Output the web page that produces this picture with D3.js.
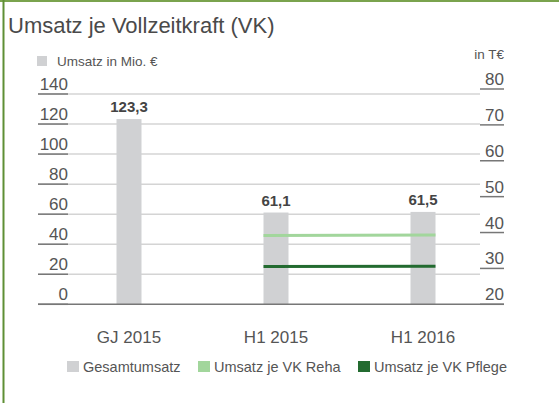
<!DOCTYPE html>
<html lang="de">
<head>
    <meta charset="UTF-8">
    <title>Umsatz je Vollzeitkraft (VK)</title>
    <script src="https://cdn.jsdelivr.net/npm/d3@7"></script>
    <style>
        body { margin: 0; background: #fff; }
        * { font-family: 'Liberation Sans', Arial, sans-serif; }
    </style>
</head>
<body>
<script>
    // data
    const categories = ["GJ 2015", "H1 2015", "H1 2016"];
    const umsatz = [123.3, 61.1, 61.5];          // Mio. €
    const reha = [null, 39.2, 39.3];             // T€ je VK
    const pflege = [null, 30.5, 30.6];           // T€ je VK
    const leftTicks = [0, 20, 40, 60, 80, 100, 120, 140];
    const rightTicks = [20, 30, 40, 50, 60, 70, 80];

    const W = 559, H = 403;
    const gridColor = "#d4d4d4", axisColor = "#777", textColor = "#555";
    const barColor = "#d0d1d3", rehaColor = "#a2d69c", pflegeColor = "#236b30";
    const barW = 25;

    const de = d3.formatLocale({decimal: ",", thousands: ".", grouping: [3], currency: ["", " €"]});
    const fmt = de.format(".1f");

    const svg = d3.select("body").append("svg").attr("width", W).attr("height", H);

    // frame
    svg.append("line").attr("x1", 0).attr("x2", W).attr("y1", 1).attr("y2", 1)
        .attr("stroke", "#7aa34e").attr("stroke-width", 2);
    svg.append("line").attr("x1", 3.5).attr("x2", 3.5).attr("y1", 0).attr("y2", H)
        .attr("stroke", "#5f8f35").attr("stroke-width", 2);

    svg.append("text").attr("x", 8).attr("y", 33)
        .attr("font-size", 22).attr("fill", "#4a4a4a")
        .text("Umsatz je Vollzeitkraft (VK)");

    const x = d3.scalePoint().domain(categories).range([129, 423]);
    const yL = d3.scaleLinear().domain([0, 140]).range([304.3, 94]);
    const yR = d3.scaleLinear().domain([20, 80]).range([304.3, 89]);

    // gridlines
    svg.append("g").selectAll("line").data(leftTicks.slice(1)).join("line")
        .attr("x1", 38).attr("x2", 480)
        .attr("y1", d => yL(d)).attr("y2", d => yL(d))
        .attr("stroke", gridColor).attr("stroke-width", 1.5);

    // left axis
    const gl = svg.append("g").selectAll("g").data(leftTicks).join("g")
        .attr("transform", d => `translate(0,${yL(d)})`);
    gl.append("line").attr("x1", 38).attr("x2", 68)
        .attr("stroke", axisColor).attr("stroke-width", 1.5);
    gl.append("text").attr("x", 68).attr("y", -4).attr("text-anchor", "end")
        .attr("font-size", 17).attr("fill", textColor).text(d => d);

    // right axis
    const gr = svg.append("g").selectAll("g").data(rightTicks).join("g")
        .attr("transform", d => `translate(0,${yR(d)})`);
    gr.append("line").attr("x1", 480).attr("x2", 504)
        .attr("stroke", axisColor).attr("stroke-width", 1.5);
    gr.append("text").attr("x", 504).attr("y", -4).attr("text-anchor", "end")
        .attr("font-size", 17).attr("fill", textColor).text(d => d);

    svg.append("text").attr("x", 504).attr("y", 59).attr("text-anchor", "end")
        .attr("font-size", 13.5).attr("fill", textColor).text("in T€");

    // top legend
    svg.append("rect").attr("x", 37).attr("y", 56).attr("width", 10).attr("height", 10).attr("fill", barColor);
    svg.append("text").attr("x", 57).attr("y", 66)
        .attr("font-size", 13.5).attr("fill", textColor).text("Umsatz in Mio. €");

    // bars
    svg.append("g").selectAll("rect").data(umsatz).join("rect")
        .attr("x", (d, i) => x(categories[i]) - barW / 2)
        .attr("width", barW)
        .attr("y", d => yL(d))
        .attr("height", d => yL(0) - yL(d))
        .attr("fill", barColor);

    svg.append("g").selectAll("text").data(umsatz).join("text")
        .attr("x", (d, i) => x(categories[i]))
        .attr("y", d => yL(d) - 7)
        .attr("text-anchor", "middle")
        .attr("font-family", "'DejaVu Sans', sans-serif")
        .attr("font-weight", "bold").attr("font-size", 15).attr("fill", "#444")
        .text(d => fmt(d));

    // baseline
    svg.append("line").attr("x1", 38).attr("x2", 504)
        .attr("y1", yL(0)).attr("y2", yL(0))
        .attr("stroke", axisColor).attr("stroke-width", 1.5);

    // lines on right axis
    function drawLine(values, color) {
        const pts = values.map((v, i) => [categories[i], v]).filter(p => p[1] != null);
        const xs = pts.map((p, j) => x(p[0]) + (j === 0 ? -barW / 2 : j === pts.length - 1 ? barW / 2 : 0));
        svg.append("path")
            .datum(pts.map((p, j) => [xs[j], yR(p[1])]))
            .attr("d", d3.line())
            .attr("fill", "none").attr("stroke", color).attr("stroke-width", 3);
    }
    drawLine(reha, rehaColor);
    drawLine(pflege, pflegeColor);

    // category labels
    svg.append("g").selectAll("text").data(categories).join("text")
        .attr("x", d => x(d)).attr("y", 343)
        .attr("text-anchor", "middle").attr("font-size", 17).attr("fill", textColor)
        .text(d => d);

    // bottom legend
    const legend = [
        {name: "Gesamtumsatz", color: barColor, x: 67},
        {name: "Umsatz je VK Reha", color: rehaColor, x: 198},
        {name: "Umsatz je VK Pflege", color: pflegeColor, x: 358}
    ];
    const lg = svg.append("g").selectAll("g").data(legend).join("g")
        .attr("transform", d => `translate(${d.x},361)`);
    lg.append("rect").attr("width", 12).attr("height", 11).attr("fill", d => d.color);
    lg.append("text").attr("x", 16).attr("y", 11)
        .attr("font-size", 14.5).attr("fill", textColor).text(d => d.name);
</script>
</body>
</html>
